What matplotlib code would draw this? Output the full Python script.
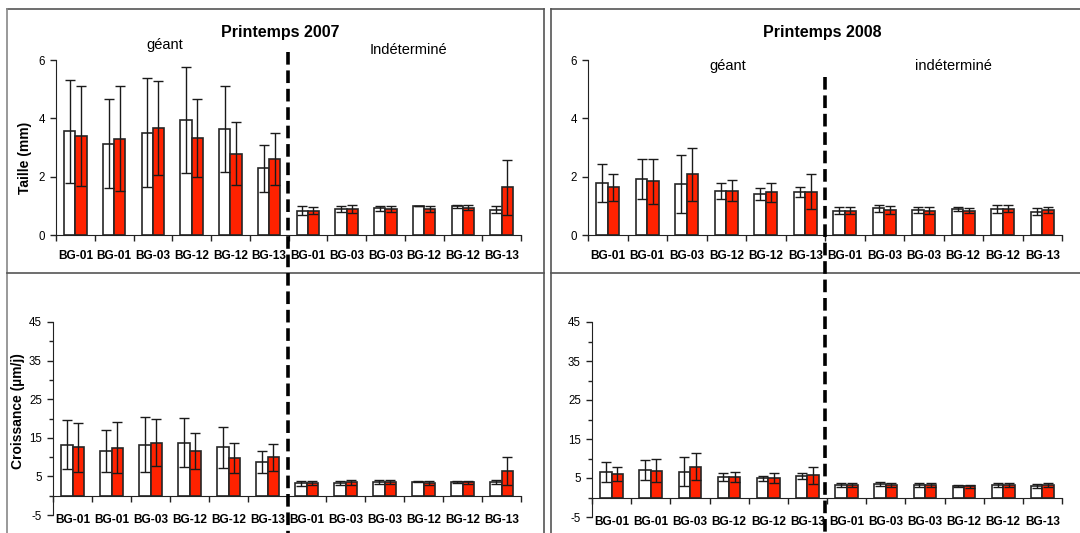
import numpy as np
import matplotlib.pyplot as plt
from matplotlib.lines import Line2D
from matplotlib.ticker import MultipleLocator

plt.rcParams['font.family'] = ['Liberation Sans', 'DejaVu Sans']

labels = ['BG-01', 'BG-01', 'BG-03', 'BG-12', 'BG-12', 'BG-13',
          'BG-01', 'BG-03', 'BG-03', 'BG-12', 'BG-12', 'BG-13']

taille_2007_white = [3.55, 3.13, 3.51, 3.95, 3.63, 2.29, 0.84, 0.89, 0.91, 1.00, 0.98, 0.87]
taille_2007_white_err = [1.76, 1.52, 1.88, 1.82, 1.47, 0.80, 0.14, 0.11, 0.10, 0.01, 0.05, 0.11]
taille_2007_red = [3.40, 3.30, 3.67, 3.33, 2.79, 2.61, 0.84, 0.89, 0.90, 0.90, 0.94, 1.64]
taille_2007_red_err = [1.72, 1.80, 1.62, 1.35, 1.09, 0.90, 0.13, 0.13, 0.11, 0.11, 0.08, 0.94]

taille_2008_white = [1.78, 1.92, 1.76, 1.52, 1.40, 1.47, 0.84, 0.91, 0.87, 0.89, 0.89, 0.80]
taille_2008_white_err = [0.64, 0.68, 1.00, 0.28, 0.21, 0.18, 0.12, 0.12, 0.10, 0.06, 0.13, 0.12]
taille_2008_red = [1.63, 1.84, 2.09, 1.52, 1.46, 1.49, 0.84, 0.86, 0.84, 0.84, 0.90, 0.87]
taille_2008_red_err = [0.47, 0.76, 0.91, 0.36, 0.32, 0.60, 0.12, 0.13, 0.11, 0.10, 0.12, 0.10]

crois_2007_white = [13.2, 11.6, 13.2, 13.75, 12.5, 8.8, 3.2, 3.4, 3.45, 3.6, 3.55, 3.45]
crois_2007_white_err = [6.4, 5.5, 7.1, 6.3, 5.2, 2.9, 0.6, 0.5, 0.5, 0.1, 0.3, 0.5]
crois_2007_red = [12.5, 12.4, 13.75, 11.6, 9.7, 9.95, 3.2, 3.45, 3.45, 3.3, 3.45, 6.3]
crois_2007_red_err = [6.3, 6.6, 6.1, 4.7, 3.9, 3.5, 0.5, 0.6, 0.5, 0.4, 0.4, 3.6]

crois_2008_white = [6.55, 7.1, 6.6, 5.25, 4.9, 5.5, 3.2, 3.45, 3.2, 3.0, 3.1, 3.0]
crois_2008_white_err = [2.5, 2.6, 3.7, 1.0, 0.7, 0.8, 0.5, 0.6, 0.5, 0.3, 0.5, 0.5]
crois_2008_red = [6.0, 6.9, 7.85, 5.25, 5.0, 5.7, 3.2, 3.2, 3.2, 2.9, 3.2, 3.25]
crois_2008_red_err = [1.7, 2.85, 3.45, 1.3, 1.2, 2.2, 0.5, 0.6, 0.5, 0.4, 0.5, 0.5]

W, H = 1080, 533
RED = '#ff2200'
EDGE = '#262626'


def px_rect(left, right, top, bottom):
    return [left / W, 1 - bottom / H, (right - left) / W, (bottom - top) / H]


def fig_line(fig, x0, y0, x1, y1, **kw):
    fig.add_artist(Line2D([x0 / W, x1 / W], [1 - y0 / H, 1 - y1 / H],
                          transform=fig.transFigure, **kw))


def bar_panel(ax, white, white_err, red, red_err, ylim, yticks, minor=None,
              label_pad=11):
    x = np.arange(len(labels)) + 0.5
    w = 0.29
    ekw = dict(ecolor='#1a1a1a', elinewidth=1, capsize=3.5, capthick=1)
    ax.bar(x - w / 2, white, w, color='white', edgecolor=EDGE, linewidth=1.2,
           yerr=white_err, error_kw=ekw, zorder=2)
    ax.bar(x + w / 2, red, w, color=RED, edgecolor=EDGE, linewidth=1.2,
           yerr=red_err, error_kw=ekw, zorder=2)
    ax.set_xlim(0, len(labels))
    ax.set_ylim(*ylim)
    ax.set_yticks(yticks)
    ax.set_yticklabels([str(t) for t in yticks])
    if minor is not None:
        ax.yaxis.set_minor_locator(MultipleLocator(minor))
    for s in ['top', 'right']:
        ax.spines[s].set_visible(False)
    ax.spines['left'].set_color('#222222')
    ax.spines['bottom'].set_color('#222222')
    ax.spines['bottom'].set_position(('data', 0))
    ax.set_xticks(np.arange(len(labels) + 1))
    ax.set_xticklabels([])
    ax.set_xticks(x, labels, minor=True)
    ax.tick_params(axis='x', which='major', direction='out', length=4, width=1, color='#222222')
    ax.tick_params(axis='x', which='minor', length=0, pad=label_pad, labelsize=8.6)
    for t in ax.get_xticklabels(minor=True):
        t.set_fontweight('bold')
    ax.tick_params(axis='y', which='major', direction='out', length=4, width=1,
                   labelsize=8.3, pad=4, color='#222222')
    ax.tick_params(axis='y', which='minor', direction='out', length=3, width=1, color='#222222')
    ax.patch.set_alpha(0)


fig = plt.figure(figsize=(W / 100, H / 100), dpi=100)

ax1 = fig.add_axes(px_rect(56, 521, 60, 235))
bar_panel(ax1, taille_2007_white, taille_2007_white_err, taille_2007_red,
          taille_2007_red_err, (0, 6), [0, 2, 4, 6], label_pad=11)
ax1.set_ylabel('Taille (mm)', fontsize=10, fontweight='bold', va='center')
ax1.yaxis.set_label_coords(25 / W, 1 - 158 / H, transform=fig.transFigure)

ax2 = fig.add_axes(px_rect(588, 1062, 60, 235))
bar_panel(ax2, taille_2008_white, taille_2008_white_err, taille_2008_red,
          taille_2008_red_err, (0, 6), [0, 2, 4, 6], label_pad=11)

ax3 = fig.add_axes(px_rect(53, 521, 322, 515))
bar_panel(ax3, crois_2007_white, crois_2007_white_err, crois_2007_red,
          crois_2007_red_err, (-5, 45), [-5, 5, 15, 25, 35, 45], minor=5, label_pad=13)
ax3.set_ylabel('Croissance (µm/j)', fontsize=10, fontweight='bold', va='center')
ax3.yaxis.set_label_coords(18 / W, 1 - 411 / H, transform=fig.transFigure)

ax4 = fig.add_axes(px_rect(592, 1062, 322, 517))
bar_panel(ax4, crois_2008_white, crois_2008_white_err, crois_2008_red,
          crois_2008_red_err, (-5, 45), [-5, 5, 15, 25, 35, 45], minor=5, label_pad=13)

# panel frames
frame = dict(color='#555555', linewidth=1.2)
fig_line(fig, 7, 9, 544, 9, **frame)
fig_line(fig, 7, 9, 7, 533, color='#888888', linewidth=1.2)
fig_line(fig, 544, 9, 544, 533, **frame)
fig_line(fig, 7, 273, 544, 273, **frame)
fig_line(fig, 551, 9, 1080, 9, **frame)
fig_line(fig, 551, 9, 551, 533, **frame)
fig_line(fig, 551, 273, 1080, 273, **frame)

# group separators
dash = dict(color='black', linewidth=2.6, linestyle=(0, (3.5, 1.6)))
fig_line(fig, 288, 52, 288, 533, **dash)
fig_line(fig, 825, 77, 825, 533, **dash)

# titles and group names
fig.text(280 / W, 1 - 33 / H, 'Printemps 2007', ha='center', va='center',
         fontsize=11.5, fontweight='bold')
fig.text(165 / W, 1 - 45 / H, 'géant', ha='center', va='center', fontsize=10.5)
fig.text(408 / W, 1 - 50 / H, 'Indéterminé', ha='center', va='center', fontsize=10.5)
fig.text(822 / W, 1 - 33 / H, 'Printemps 2008', ha='center', va='center',
         fontsize=11.5, fontweight='bold')
fig.text(728 / W, 1 - 66 / H, 'géant', ha='center', va='center', fontsize=10.5)
fig.text(953 / W, 1 - 66 / H, 'indéterminé', ha='center', va='center', fontsize=10.5)

fig.savefig('out.png', dpi=100)
